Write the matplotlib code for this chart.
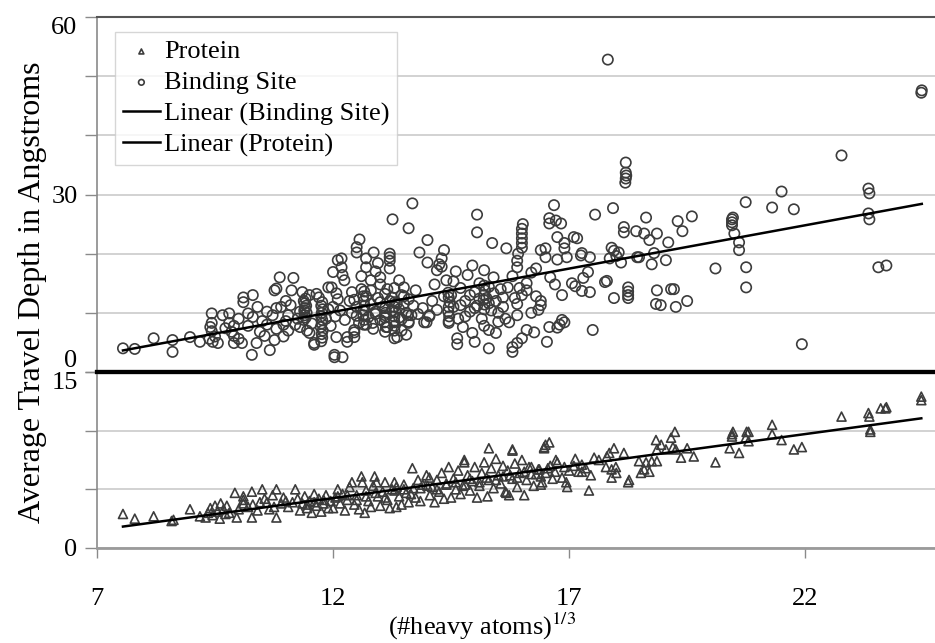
import numpy as np
import matplotlib
matplotlib.use('Agg')
from matplotlib import pyplot as plt
from matplotlib.ticker import MultipleLocator

plt.rcParams['font.family'] = ['Liberation Serif', 'DejaVu Serif']
plt.rcParams['mathtext.fontset'] = 'stix'

# binding site: (#heavy atoms)^(1/3) vs average travel depth
site_x = [7.55, 7.80, 8.2, 8.6, 8.6, 8.97, 9.18,
          9.43, 9.43, 9.43, 9.45, 9.56, 9.4, 9.5, 9.38,
          9.66, 9.8, 9.8, 9.85, 9.9, 10.07, 9.72, 9.9, 10.0,
          10.1, 10.1, 10.3, 10.2, 10.3, 10.28, 10.38, 10.45, 10.66, 10.76, 10.76, 10.8,
          10.87, 11.16, 11.12, 10.72, 10.8, 10.95, 11.05, 11.05, 10.8, 10.6, 10.55, 10.95, 11.1, 11.0,
          11.38, 11.42, 11.4, 11.44, 11.39, 11.41, 11.43, 11.4, 11.38, 11.42,
          11.3, 11.5, 11.6, 11.6,
          11.75, 11.77, 11.76, 11.78, 11.74, 11.76, 11.77, 11.75, 11.76, 11.78, 11.75, 11.77,
          12.03, 12.03, 12.2, 12.0, 12.1, 11.9, 11.97,
          12.07, 12.18, 12.18, 12.2, 12.24, 12.5, 12.5, 12.56, 12.86, 12.7, 12.7, 12.6, 12.8, 12.9,
          13.0, 12.95, 13.26, 13.2, 13.2, 13.2, 13.2,
          12.3, 12.45, 13.3, 12.07, 12.3, 12.45, 12.45, 12.84, 13.36, 13.6, 13.93, 14.04,
          12.4, 12.45, 12.5, 12.5, 12.55, 12.6, 12.65, 12.7, 12.7, 12.75, 12.8, 12.8, 12.85, 12.9,
          12.95, 13.0, 13.0, 13.05, 13.1, 13.1, 13.15, 13.2, 13.25, 13.3, 13.3, 13.35, 13.4,
          12.65, 12.66, 12.64, 12.65, 12.67, 12.65, 12.64, 12.66,
          13.1, 13.12, 13.09, 13.1, 13.11, 13.1,
          13.3, 13.31, 13.29, 13.3, 13.32, 13.3, 13.31,
          13.4, 13.45, 13.5, 13.55, 13.6, 13.45, 13.55, 13.6, 13.5, 13.66,
          13.68, 13.6, 14.0, 13.83, 14.0, 14.2, 14.25, 14.3, 14.35, 14.3,
          13.98, 14.04,
          14.4, 14.5, 14.55, 14.6, 14.65, 14.7, 14.8, 14.85, 14.9, 14.95, 15.0, 15.05, 15.1, 15.15,
          15.2, 15.25, 15.3, 15.35, 15.4, 15.45, 15.5, 15.55, 15.6, 14.45, 14.75, 15.2,
          14.45, 14.46, 14.44, 14.45, 14.47, 14.45, 14.44,
          15.2, 15.21, 15.19, 15.2, 15.22, 15.2,
          15.05, 15.05, 15.37, 15.67, 16.0, 16.0, 16.0, 16.0, 16.0, 16.02, 15.9, 15.9, 15.92,
          16.68, 16.58, 16.58, 16.83, 16.75, 16.9, 16.9, 16.4, 16.5, 16.5, 16.75, 16.95,
          16.85, 16.9, 16.8, 16.75, 16.58, 16.53, 16.26, 16.1, 16.0, 15.9, 15.8, 15.8, 15.9, 15.73,
          16.4, 16.4, 16.35, 15.9, 16.0, 15.95, 16.1, 15.7, 15.85,
          15.3, 15.45, 15.3, 14.95, 15.0, 14.63, 14.63, 13.58,
          15.8, 16.2, 16.6, 16.7, 16.3, 16.72, 17.1, 17.06, 16.85,
          17.82, 24.46, 24.47, 22.77, 18.2, 18.2, 18.21, 18.2, 18.19, 23.34, 23.36, 23.34, 23.36,
          23.55, 23.72, 21.5, 20.74, 21.3, 21.76, 21.93, 20.45, 20.45, 20.45, 20.47, 20.5, 20.6,
          20.6, 20.75, 20.75, 20.1, 19.6, 19.3, 19.4, 19.1, 19.05, 18.86, 18.7, 18.59, 18.42,
          18.63, 18.8, 18.75, 18.48, 18.44, 18.86, 18.84, 18.94, 19.16, 19.22, 19.26, 19.5,
          18.25, 18.25, 18.25, 18.25, 17.93, 18.16, 18.16, 17.95, 17.86, 17.95, 17.9, 18.0,
          18.05, 18.1, 17.76, 17.8, 17.55, 17.5, 17.17, 17.27, 17.25, 17.44, 17.4, 17.3, 17.13,
          17.27, 17.44,
          11.45, 11.5, 11.55, 11.35, 11.3, 11.25, 11.2, 11.65, 11.7, 11.85,
          11.9, 11.95, 12.0, 12.05, 12.1, 12.15, 12.25, 12.35, 12.4, 12.9,
          13.0, 13.15, 13.25, 13.4, 13.45, 13.5, 13.7, 13.75, 13.8, 13.9,
          14.1, 14.15, 14.2, 14.35, 14.55, 14.7, 14.8, 14.9, 15.0, 15.1,
          15.3, 15.4, 15.5, 15.6, 15.65, 16.1, 16.2, 16.3, 10.2, 10.4,
          10.5, 10.6, 10.9, 11.0, 9.9, 10.0]
site_y = [4.0, 3.9, 5.7, 5.4, 3.4, 5.9, 5.1,
          9.9, 8.3, 6.9, 5.1, 4.9, 7.6, 6.0, 5.6,
          9.6, 9.9, 8.3, 6.8, 4.9, 4.9, 7.4, 6.1, 5.6,
          12.6, 11.8, 13.0, 9.9, 9.3, 2.9, 4.9, 6.8, 3.7, 5.4, 13.8, 14.1,
          16.0, 15.9, 13.8, 9.6, 7.3, 8.0, 9.6, 7.0, 10.8, 8.0, 6.1, 6.0, 11.3, 12.0,
          8.8, 9.2, 9.6, 10.0, 10.4, 10.8, 11.2, 11.6, 12.0, 12.4,
          7.6, 6.6, 4.9, 4.6,
          5.2, 5.8, 6.4, 7.0, 7.6, 8.2, 8.8, 9.4, 10.0, 10.6, 11.2, 11.8,
          2.5, 2.9, 2.5, 16.9, 18.9, 14.3, 14.3,
          13.3, 19.2, 17.7, 16.4, 15.5, 20.2, 21.1, 22.4, 20.2, 19.2, 17.7, 16.2, 15.5, 17.0,
          16.0, 18.4, 25.8, 19.4, 18.8, 20.0, 17.5,
          5.9, 7.1, 5.7, 5.9, 5.1, 6.7, 5.9, 8.3, 5.9, 8.3, 8.4, 9.4,
          13.5, 12.2, 11.0, 9.5, 8.3, 14.0, 10.5, 12.8, 8.0, 9.3, 11.5, 13.8, 7.3, 10.2,
          12.5, 8.8, 14.8, 11.0, 9.6, 13.2, 7.6, 12.0, 10.4, 8.4, 14.2, 11.6, 9.2,
          8.0, 8.8, 9.6, 10.4, 11.2, 12.0, 12.8, 13.6,
          6.8, 7.6, 8.4, 9.2, 10.0, 10.8,
          7.0, 7.8, 8.6, 9.4, 10.2, 11.0, 11.8,
          15.5, 13.0, 11.5, 10.0, 8.5, 7.0, 6.3, 12.3, 14.3, 9.6,
          28.5, 24.3, 22.3, 20.2, 18.5, 17.2, 18.2, 19.2, 20.6, 17.8,
          8.4, 9.6,
          15.5, 13.0, 11.0, 17.0, 9.0, 14.2, 12.0, 16.4, 10.2, 18.0, 13.5, 11.2, 15.0, 9.0,
          17.2, 12.5, 14.4, 10.4, 16.0, 12.0, 8.5, 14.0, 11.0, 8.3, 7.6, 7.8,
          8.6, 9.4, 10.2, 11.0, 11.8, 12.6, 13.4,
          10.6, 11.4, 12.2, 13.0, 13.8, 14.6,
          26.6, 23.6, 21.8, 20.9, 21.0, 21.8, 22.6, 23.4, 24.2, 25.0, 17.7, 18.8, 20.0,
          28.2, 26.0, 25.1, 25.1, 22.8, 21.8, 20.9, 20.6, 20.9, 19.4, 19.0, 19.4,
          13.0, 8.4, 8.0, 7.5, 7.6, 5.1, 6.7, 7.1, 5.7, 4.9, 4.2, 3.4, 9.6, 8.4,
          11.3, 12.0, 10.5, 11.5, 13.0, 14.2, 15.0, 14.3, 12.5,
          7.1, 6.6, 4.0, 6.6, 5.1, 5.7, 4.7, 9.6,
          16.2, 16.8, 16.0, 14.8, 17.5, 25.6, 22.8, 15.0, 8.8,
          52.8, 47.2, 47.6, 36.6, 35.4, 33.7, 33.2, 32.7, 32.0, 31.0, 30.2, 26.8, 25.8,
          17.7, 18.0, 30.5, 28.7, 27.8, 27.5, 4.7, 24.8, 25.3, 25.8, 26.1, 23.4, 21.9,
          20.6, 17.7, 14.3, 17.5, 26.3, 25.5, 23.8, 21.9, 18.9, 23.4, 22.3, 23.4, 23.8,
          26.1, 20.1, 18.2, 19.4, 19.4, 13.8, 11.5, 11.3, 14.0, 14.0, 11.0, 12.0,
          12.5, 13.0, 13.6, 14.3, 27.7, 24.5, 23.6, 12.5, 19.2, 20.5, 21.0, 19.6,
          20.2, 18.5, 15.2, 15.4, 26.6, 7.1, 22.6, 20.1, 19.7, 19.4, 16.9, 15.9, 14.5,
          13.7, 13.5,
          7.0, 13.0, 8.2, 13.5, 10.2, 9.0, 8.0, 13.2, 12.6, 9.0,
          10.6, 7.8, 11.0, 9.4, 12.3, 10.4, 8.8, 12.0, 10.0, 9.8,
          11.8, 14.0, 12.6, 10.6, 8.9, 12.8, 11.2, 13.8, 9.8, 10.8,
          12.0, 14.8, 10.5, 12.8, 15.3, 11.3, 9.4, 13.0, 10.8, 12.4,
          11.6, 13.3, 10.0, 12.6, 9.0, 13.8, 10.0, 12.8, 7.8, 11.0,
          8.6, 10.2, 11.0, 8.6, 7.8, 9.0]

# protein
prot_x = [7.55, 7.8, 8.2, 8.58, 8.62, 8.97, 9.18,
          9.3, 9.35, 9.4, 9.45, 9.5, 9.55, 9.6, 9.62, 9.68, 9.72, 9.75,
          9.92, 10.1, 10.1, 10.1, 10.28, 10.5, 9.96, 10.28, 10.6, 10.72, 10.8, 10.9, 10.8, 11.2,
          11.14, 10.0, 10.2, 10.4, 10.45, 10.65, 10.95, 11.05,
          11.3, 11.35, 11.4, 11.45, 11.5, 11.55, 11.6, 11.65, 11.7, 11.75, 11.8, 11.85, 11.9,
          12.0, 12.05, 12.1, 12.15, 12.2, 12.25, 12.3, 12.35, 12.4, 12.45, 12.5, 12.55, 12.6,
          12.62, 12.67, 12.7, 12.75, 12.8, 12.85, 12.88, 12.92, 12.95, 13.0, 13.05, 13.1, 13.15,
          13.2, 13.25, 13.3, 13.34, 13.34, 13.4, 13.45, 13.5, 13.55, 13.6, 13.68, 13.7, 13.75,
          13.8, 13.85, 13.9, 13.98, 14.04, 14.05, 14.1, 14.15, 14.2, 14.25, 14.3, 14.35, 14.4,
          14.45, 14.5, 14.55, 14.6, 14.65, 14.7, 14.78, 14.78, 14.8, 14.85, 14.9, 14.95, 15.05,
          15.0, 15.1, 15.15, 15.2, 15.27, 15.3, 15.3, 15.35, 15.4, 15.45, 15.5, 15.55, 15.6,
          15.65, 15.67, 15.73, 15.7, 15.8, 15.8, 15.8, 15.85, 15.9, 15.95, 16.0, 16.05, 16.1,
          16.15, 16.2, 16.25, 16.3, 16.37, 16.4, 16.43, 16.4, 16.47, 16.47, 16.5, 16.5, 16.58,
          16.6, 16.65, 16.72, 16.75, 16.85, 16.96, 16.94, 17.0, 17.13, 17.2, 17.27, 17.27,
          17.42, 17.46, 17.53, 17.63, 17.78, 17.8, 17.85, 17.9, 17.9, 17.95, 17.99, 18.0,
          18.16, 18.25, 18.27, 18.48, 18.52, 18.59, 18.63, 18.7, 18.75, 18.84, 18.86, 18.86,
          18.95, 19.05, 19.16, 19.2, 19.24, 19.26, 19.37, 19.5, 19.64, 20.1, 20.4, 20.45,
          20.45, 20.47, 20.6, 20.74, 20.76, 20.8, 20.8, 21.3, 21.3, 21.5, 21.76, 21.93,
          22.77, 23.34, 23.36, 23.38, 23.38, 23.6, 23.7, 23.72, 24.46, 24.46,
          9.8, 10.3, 10.55, 10.75, 11.0, 11.25, 11.45, 11.6, 11.8, 11.95,
          12.1, 12.3, 12.5, 12.7, 12.9, 13.1, 13.3, 13.5, 13.65, 13.85,
          14.0, 14.2, 14.4, 14.6, 14.75, 14.9, 15.1, 15.25, 15.45, 15.6,
          15.75, 15.9, 16.05, 16.2, 16.35, 16.55, 16.7, 16.9, 17.1, 17.35]
prot_y = [2.9, 2.5, 2.7, 2.3, 2.4, 3.3, 2.7,
          2.6, 3.0, 3.4, 2.8, 3.6, 3.1, 2.5, 3.8, 3.3, 2.9, 3.6,
          4.7, 3.8, 4.1, 4.4, 4.8, 5.0, 2.6, 2.6, 3.9, 4.5, 5.0, 3.8, 2.6, 5.0,
          3.9, 3.3, 3.5, 3.2, 3.9, 3.3, 4.3, 3.5,
          3.2, 3.8, 4.4, 3.4, 4.0, 3.0, 4.6, 3.6, 4.2, 3.1, 3.8, 4.5, 3.4,
          3.4, 4.3, 5.0, 3.8, 4.6, 3.2, 4.1, 5.2, 5.6, 3.7, 4.5, 3.3, 6.1,
          5.6, 3.0, 4.9, 4.0, 3.5, 5.3, 6.1, 5.6, 4.4, 3.6, 4.8, 5.6, 4.1,
          3.4, 5.0, 5.6, 5.2, 3.5, 4.4, 3.7, 5.4, 4.7, 3.9, 6.8, 5.1, 4.3,
          5.8, 4.0, 5.4, 6.2, 6.0, 4.5, 5.2, 3.9, 5.8, 4.8, 6.4, 4.2, 5.5,
          6.9, 4.3, 5.9, 5.0, 6.6, 4.6, 7.5, 7.3, 5.4, 6.2, 4.9, 5.7, 4.3,
          6.9, 5.3, 6.4, 7.3, 4.4, 8.5, 5.8, 6.8, 5.1, 7.6, 6.2, 5.5, 7.0,
          4.8, 4.7, 4.5, 6.6, 8.3, 8.4, 5.9, 7.2, 5.2, 6.4, 7.5, 4.5, 5.8,
          6.9, 6.9, 5.3, 6.3, 6.7, 5.4, 5.6, 6.1, 8.6, 8.5, 8.8, 6.4, 9.0,
          7.0, 5.9, 7.5, 7.3, 6.0, 5.2, 5.6, 6.6, 7.6, 6.5, 7.1, 6.5,
          4.9, 6.2, 7.7, 7.5, 6.9, 7.8, 8.1, 6.7, 6.0, 8.5, 6.9, 6.4,
          8.1, 5.6, 5.8, 7.4, 6.4, 6.7, 7.3, 6.5, 7.4, 9.2, 8.4, 7.4,
          8.8, 8.4, 9.4, 8.6, 9.9, 8.4, 7.7, 8.5, 7.8, 7.3, 8.5, 9.5,
          9.7, 9.9, 8.1, 9.4, 9.9, 9.9, 9.1, 10.5, 9.7, 9.2, 8.4, 8.6,
          11.2, 11.5, 11.2, 10.1, 9.9, 11.9, 11.9, 12.0, 12.9, 12.6,
          3.0, 3.7, 4.2, 3.5, 4.0, 4.2, 3.7, 3.9, 4.1, 4.0,
          4.4, 4.5, 4.1, 4.4, 4.7, 4.3, 4.9, 5.0, 4.6, 5.1,
          5.3, 5.0, 5.4, 5.6, 5.3, 5.9, 5.6, 6.0, 5.8, 6.1,
          6.2, 6.0, 6.5, 6.3, 6.7, 6.8, 6.5, 6.9, 7.0, 6.8]

x_ticks = [7, 12, 17, 22]
site_ticks = [0, 30, 60]
prot_ticks = [0, 15]

W, H = 935, 643
fig = plt.figure(figsize=(W / 100, H / 100), dpi=100)


def box(l, t, r, b):
    return [l / W, 1 - b / H, (r - l) / W, (b - t) / H]


ax1 = fig.add_axes(box(97, 17, 935, 372))
ax2 = fig.add_axes(box(97, 372, 935, 548))

edge = '#3c3c3c'
h_site = ax1.scatter(site_x, site_y, s=55, marker='o', facecolors='none',
                     edgecolors=edge, linewidths=1.2, zorder=3)
h_prot = ax2.scatter(prot_x, prot_y, s=42, marker='^', facecolors='none',
                     edgecolors=edge, linewidths=1.2, zorder=3)

# linear trend lines
k1, b1 = np.polyfit(site_x, site_y, 1)
xx1 = np.array([min(site_x), max(site_x)])
l_site, = ax1.plot(xx1, k1 * xx1 + b1, color='black', lw=1.8, zorder=4)
k2, b2 = np.polyfit(prot_x, prot_y, 1)
xx2 = np.array([min(prot_x), max(prot_x)])
l_prot, = ax2.plot(xx2, k2 * xx2 + b2, color='black', lw=1.8, zorder=4)

for ax in (ax1, ax2):
    ax.set_xlim(7, 24.75)
    ax.set_axisbelow(True)
    ax.patch.set_alpha(0)
    ax.grid(axis='y', which='both', color='#cfcfcf', lw=1.3)
    ax.tick_params(axis='y', which='both', direction='out', length=9, width=1,
                   color='#8a8a8a', labelsize=19, pad=5)
    ax.spines['right'].set_visible(False)
    ax.spines['left'].set_color('#8a8a8a')
    ax.spines['left'].set_linewidth(1.2)

ax1.set_ylim(0, 60)
ax1.set_yticks(site_ticks)
ax1.yaxis.set_minor_locator(MultipleLocator(10))
ax1.tick_params(axis='x', bottom=False, labelbottom=False)
ax1.spines['top'].set_color('#555555')
ax1.spines['top'].set_linewidth(1.5)
ax1.spines['bottom'].set_color('black')
ax1.spines['bottom'].set_linewidth(3)

ax2.set_ylim(0, 15)
ax2.set_yticks(prot_ticks)
ax2.yaxis.set_minor_locator(MultipleLocator(5))
ax2.set_xticks(x_ticks)
ax2.tick_params(axis='x', direction='out', length=7, width=1, color='#8a8a8a',
                labelsize=19, pad=22)
ax2.spines['top'].set_color('black')
ax2.spines['top'].set_linewidth(3)
ax2.spines['bottom'].set_color('#9a9a9a')
ax2.spines['bottom'].set_linewidth(2)

t1 = ax1.get_yticklabels()
t1[0].set_va('bottom')
t1[-1].set_va('top')
t2 = ax2.get_yticklabels()
t2[-1].set_va('top')

leg = ax1.legend([h_prot, h_site, l_site, l_prot],
                 ['Protein', 'Binding Site', 'Linear (Binding Site)', 'Linear (Protein)'],
                 loc='upper left', bbox_to_anchor=(115 / W, 1 - 32 / H),
                 bbox_transform=fig.transFigure, fontsize=19, frameon=True,
                 fancybox=False, edgecolor='#cccccc', markerscale=0.55,
                 handlelength=1.4, handletextpad=0.15, labelspacing=0.28,
                 borderpad=0.3, borderaxespad=0)
leg.get_frame().set_linewidth(1.0)

fig.text(33 / W, 1 - 292 / H, 'Average Travel Depth in Angstroms', rotation=90,
         ha='center', va='center', fontsize=23)
fig.text(482 / W, 1 / H, '(#heavy atoms)$^{1/3}$', ha='center', va='bottom',
         fontsize=19)

fig.savefig('out.png', dpi=100)
